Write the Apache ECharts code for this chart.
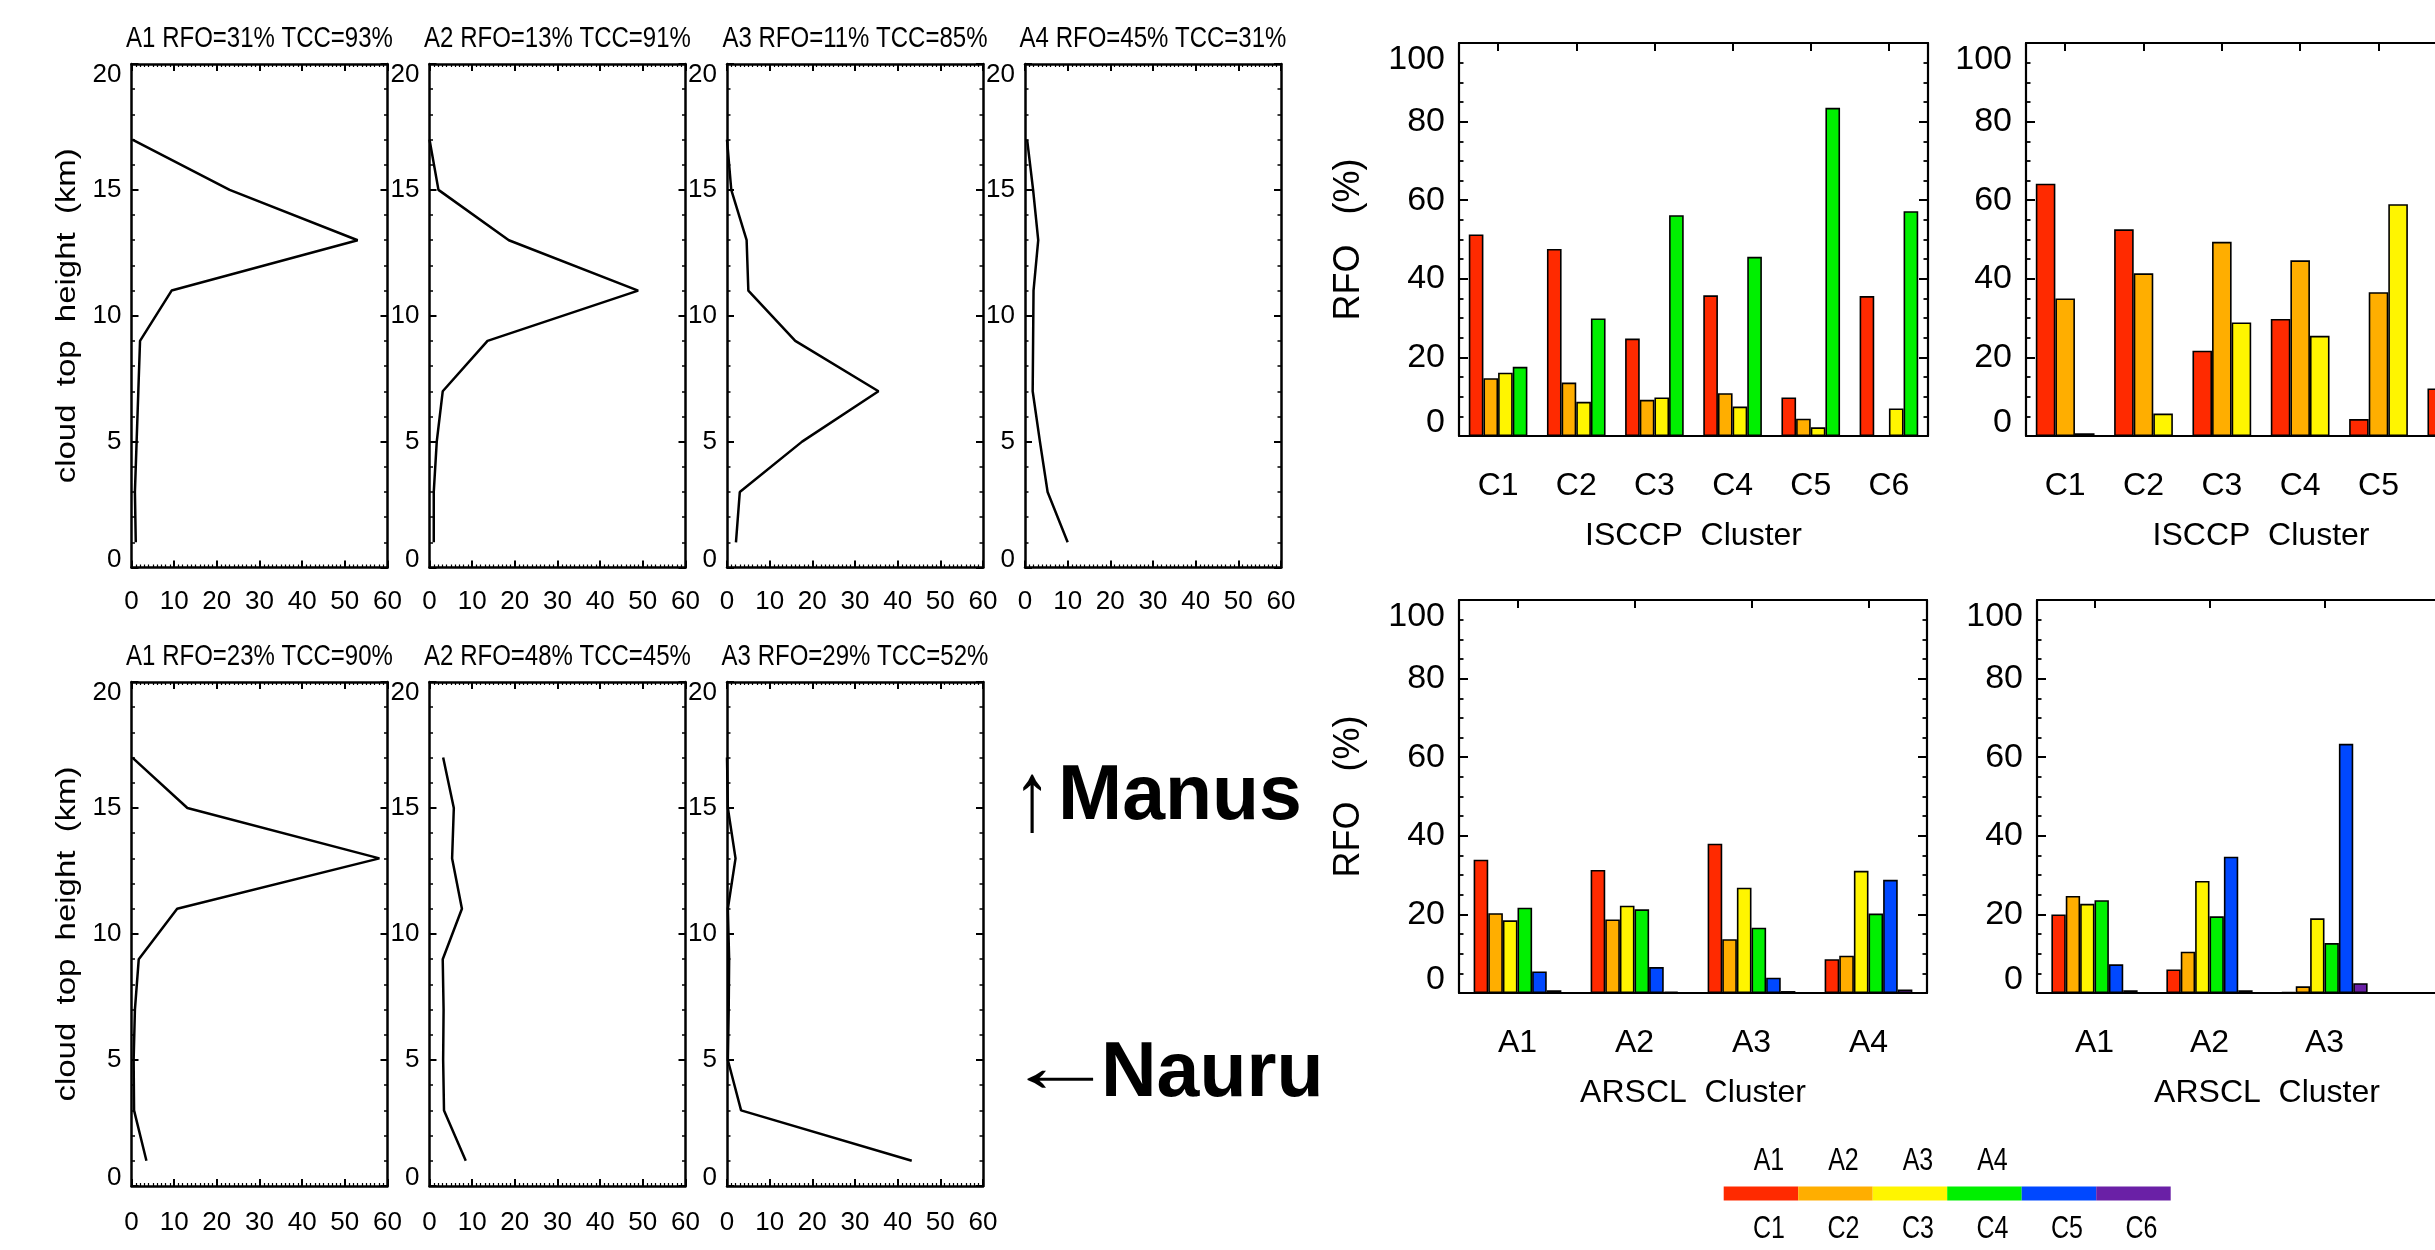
<!DOCTYPE html>
<html>
<head>
<meta charset="utf-8">
<script src="https://cdn.jsdelivr.net/npm/echarts@6/dist/echarts.min.js"></script>
<style>html,body{margin:0;padding:0;background:#fff}#c{width:2435px;height:1250px}</style>
</head>
<body>
<div id="c"></div>
<script>
// ================= DATA =================
// Cloud-top-height profiles (x = frequency %, y = height km)
const heightsKm = [17, 15, 13, 11, 9, 7, 5, 3, 1];
const manusProfA1 = [0.2, 23.0, 53.0, 9.4, 2.0, 1.6, 1.2, 0.8, 1.0];
const manusProfA2 = [0.0, 2.1, 18.6, 48.9, 13.6, 3.1, 1.7, 1.0, 1.0];
const manusProfA3 = [0.0, 1.0, 4.6, 5.0, 16.0, 35.5, 17.6, 3.0, 2.1];
const manusProfA4 = [0.5, 1.9, 3.1, 2.0, 1.9, 1.8, 3.5, 5.3, 10.0];
const nauruProfA1 = [0.2, 13.1, 58.1, 10.7, 1.7, 0.8, 0.5, 0.6, 3.5];
const nauruProfA2 = [3.2, 5.7, 5.3, 7.6, 3.1, 3.3, 3.2, 3.4, 8.5];
const nauruProfA3 = [0.0, 0.2, 2.0, 0.2, 0.5, 0.4, 0.2, 3.3, 43.3];
const manusTitles = ['A1 RFO=31% TCC=93%', 'A2 RFO=13% TCC=91%', 'A3 RFO=11% TCC=85%', 'A4 RFO=45% TCC=31%'];
const nauruTitles = ['A1 RFO=23% TCC=90%', 'A2 RFO=48% TCC=45%', 'A3 RFO=29% TCC=52%'];
const profileYTitle = 'cloud  top  height  (km)';

// RFO of ARSCL clusters within ISCCP clusters
const isccpClusters = ['C1', 'C2', 'C3', 'C4', 'C5', 'C6'];
const manusIsccpA1 = [51.3, 47.6, 24.8, 35.8, 9.8, 35.6];
const manusIsccpA2 = [14.7, 13.6, 9.2, 10.9, 4.4, 0];
const manusIsccpA3 = [16.1, 8.7, 9.8, 7.5, 2.2, 7.0];
const manusIsccpA4 = [17.6, 29.9, 56.2, 45.6, 83.5, 57.2];
const nauruIsccpA1 = [64.2, 52.6, 21.7, 29.8, 4.3, 12.1];
const nauruIsccpA2 = [35.0, 41.4, 49.4, 44.7, 36.6, null];
const nauruIsccpA3 = [0.7, 5.7, 28.9, 25.5, 59.0, null];

// RFO of ISCCP clusters within ARSCL clusters
const arsclClusters = ['A1', 'A2', 'A3', 'A4'];
const manusArsclC1 = [33.9, 31.3, 38.0, 8.6];
const manusArsclC2 = [20.3, 18.7, 13.7, 9.5];
const manusArsclC3 = [18.5, 22.2, 26.8, 31.1];
const manusArsclC4 = [21.7, 21.3, 16.6, 20.2];
const manusArsclC5 = [5.5, 6.6, 3.9, 28.8];
const manusArsclC6 = [0.7, 0.3, 0.5, 0.9];
const nauruArsclC1 = [20.0, 6.0, 0.2, null];
const nauruArsclC2 = [24.7, 10.5, 1.7, null];
const nauruArsclC3 = [22.7, 28.5, 19.0, null];
const nauruArsclC4 = [23.6, 19.5, 12.7, null];
const nauruArsclC5 = [7.3, 34.7, 63.4, null];
const nauruArsclC6 = [0.7, 0.7, 2.5, null];

const legendTopLabels = ['A1', 'A2', 'A3', 'A4'];
const legendBottomLabels = ['C1', 'C2', 'C3', 'C4', 'C5', 'C6'];
const clusterColors = ['#FF2A00', '#FFAE00', '#FFF500', '#00F000', '#0048FF', '#6A20A6'];

// ================= FONTS =================
function hasFont(name) {
  const ctx = document.createElement('canvas').getContext('2d');
  const s = 'abcdefghijklmnopqrstuvwxyzABCDEFGHIJ0123456789';
  ctx.font = '40px monospace';
  const a = ctx.measureText(s).width;
  ctx.font = '40px "' + name + '", monospace';
  const b = ctx.measureText(s).width;
  return Math.abs(a - b) > 1;
}
const NARROW = hasFont('Liberation Sans Narrow');
const FONT = NARROW ? '"Liberation Sans Narrow", "Liberation Sans", sans-serif' : '"Liberation Sans", Arial, sans-serif';
const K = NARROW ? 1 : 0.9;
const fs = n => Math.round(n * K);
const WIDE = '"Liberation Sans", Arial, sans-serif';
const TALL = NARROW ? 1.0 : 1.22;   // vertical stretch for free-standing text to mimic the tall plot font

// ================= BUILD =================
const grids = [], xAxes = [], yAxes = [], series = [], graphics = [];
const BLACK = '#000';

function textEl(x, y, text, size, opts) {
  opts = opts || {};
  const align = opts.align || 'center';
  const el = {
    type: 'text', x: x, y: y, silent: true,
    style: {
      text: text, fontSize: size, fontFamily: opts.family || FONT, fontWeight: opts.weight || 'normal',
      fill: BLACK, align: align, verticalAlign: 'middle', textAlign: align, textVerticalAlign: 'middle'
    }
  };
  if (opts.rotation) el.rotation = opts.rotation;
  if (opts.scaleX) el.scaleX = opts.scaleX;
  if (opts.scaleY) el.scaleY = opts.scaleY;
  return el;
}

function yLab(maxV, size, margin, downTop, upBottom) {
  const base = { fontSize: size, fontFamily: FONT, color: BLACK };
  return {
    show: true, margin: margin, fontSize: size, fontFamily: FONT, color: BLACK,
    showMinLabel: true, showMaxLabel: true,
    formatter: v => (v === maxV ? '{t|' : (v === 0 ? '{b|' : '{n|')) + v + '}',
    rich: {
      t: Object.assign({ padding: [2 * downTop, 0, 0, 0] }, base),
      b: Object.assign({ padding: [0, 0, 2 * upBottom, 0] }, base),
      n: Object.assign({}, base)
    }
  };
}

const PW = 256;
function addProfile(left, top, height, xvals, title, titleY, labelMargin, yTitle) {
  const g = grids.length;
  grids.push({ left: left, top: top, width: PW, height: height, outerBoundsMode: 'none', containLabel: false });
  const line = { show: true, onZero: false, lineStyle: { color: BLACK, width: 2.5 } };
  const tick = { show: true, inside: true, length: 7, lineStyle: { color: BLACK, width: 2 } };
  const xi = xAxes.length;
  const xBase = {
    gridIndex: g, type: 'value', min: 0, max: 60, interval: 10,
    axisLine: line, axisTick: tick,
    minorTick: { show: true, splitNumber: 10, length: 3, lineStyle: { color: BLACK, width: 1.2 } },
    splitLine: { show: false }, minorSplitLine: { show: false }
  };
  xAxes.push(Object.assign({}, xBase, {
    position: 'bottom',
    axisLabel: { show: true, margin: labelMargin, fontSize: fs(29), fontFamily: FONT, color: BLACK, showMinLabel: true, showMaxLabel: true }
  }));
  xAxes.push(Object.assign({}, xBase, { position: 'top', axisLabel: { show: false } }));
  const yi = yAxes.length;
  const yBase = {
    gridIndex: g, type: 'value', min: 0, max: 20, interval: 5,
    axisLine: line, axisTick: tick,
    minorTick: { show: true, splitNumber: 5, length: 3.5, lineStyle: { color: BLACK, width: 1.5 } },
    splitLine: { show: false }, minorSplitLine: { show: false }
  };
  yAxes.push(Object.assign({}, yBase, { position: 'left', axisLabel: yLab(20, fs(29), 10, 11, 8) }));
  yAxes.push(Object.assign({}, yBase, { position: 'right', axisLabel: { show: false } }));
  series.push({
    type: 'line', xAxisIndex: xi, yAxisIndex: yi, silent: true,
    data: xvals.map((v, i) => [v, heightsKm[i]]),
    showSymbol: false, symbol: 'none', smooth: false,
    lineStyle: { color: BLACK, width: 2.5 }
  });
  graphics.push(textEl(left + PW / 2, titleY, title, fs(27), { scaleY: TALL }));
  if (yTitle) {
    graphics.push(textEl(68, top + height / 2, yTitle, 27, { family: WIDE, rotation: Math.PI / 2, scaleX: 1.22 }));
  }
}

const BH = 393;
function addBars(left, top, width, cats, valsList, xName, labelInterval, showYName) {
  const g = grids.length;
  grids.push({ left: left, top: top, width: width, height: BH, outerBoundsMode: 'none', containLabel: false });
  const line = { show: true, onZero: false, lineStyle: { color: BLACK, width: 2.2 } };
  const xi = xAxes.length;
  xAxes.push({
    gridIndex: g, type: 'category', data: cats, position: 'bottom', boundaryGap: true,
    axisLine: line, axisTick: { show: false }, splitLine: { show: false },
    axisLabel: { show: true, margin: 34, fontSize: fs(36), fontFamily: FONT, color: BLACK, interval: labelInterval },
    name: xName, nameLocation: 'middle', nameGap: 84, nameMoveOverlap: false,
    nameTextStyle: { fontSize: 32, fontFamily: WIDE, color: BLACK }
  });
  xAxes.push({
    gridIndex: g, type: 'category', data: cats, position: 'top', boundaryGap: true,
    axisLine: line, splitLine: { show: false },
    axisTick: { show: true, inside: true, alignWithLabel: true, length: 8, lineStyle: { color: BLACK, width: 2 } },
    axisLabel: { show: false }
  });
  const yi = yAxes.length;
  const yBase = {
    gridIndex: g, type: 'value', min: 0, max: 100, interval: 20,
    axisLine: line,
    axisTick: { show: true, inside: true, length: 9, lineStyle: { color: BLACK, width: 2 } },
    minorTick: { show: true, splitNumber: 4, length: 4.5, lineStyle: { color: BLACK, width: 1.8 } },
    splitLine: { show: false }, minorSplitLine: { show: false }
  };
  const yLeft = Object.assign({}, yBase, { position: 'left', axisLabel: yLab(100, fs(38), 14, 17, 13) });
  if (showYName) {
    Object.assign(yLeft, {
      name: 'RFO   (%)', nameLocation: 'middle', nameGap: 92, nameMoveOverlap: false,
      nameTextStyle: { fontSize: 36, fontFamily: WIDE, color: BLACK }
    });
  }
  yAxes.push(yLeft);
  yAxes.push(Object.assign({}, yBase, { position: 'right', axisLabel: { show: false } }));
  valsList.forEach((vals, k) => {
    series.push({
      type: 'bar', xAxisIndex: xi, yAxisIndex: yi, data: vals, silent: true,
      barGap: '0%', barCategoryGap: '25%',
      itemStyle: { color: clusterColors[k], borderColor: BLACK, borderWidth: 1.6 }
    });
  });
}

// Profiles: Manus (top row), Nauru (bottom row)
const topLefts = [131.5, 429.5, 727, 1025];
[manusProfA1, manusProfA2, manusProfA3, manusProfA4].forEach((d, i) =>
  addProfile(topLefts[i], 64, 503.5, d, manusTitles[i], 39, 21, i === 0 ? profileYTitle : null));
[nauruProfA1, nauruProfA2, nauruProfA3].forEach((d, i) =>
  addProfile(topLefts[i], 682, 504, d, nauruTitles[i], 657, 24, i === 0 ? profileYTitle : null));

// Bar charts
addBars(1459, 43, 469, isccpClusters, [manusIsccpA1, manusIsccpA2, manusIsccpA3, manusIsccpA4], 'ISCCP  Cluster', 0, true);
addBars(2026, 43, 470, isccpClusters, [nauruIsccpA1, nauruIsccpA2, nauruIsccpA3], 'ISCCP  Cluster', 0, false);
addBars(1459, 600, 468, arsclClusters, [manusArsclC1, manusArsclC2, manusArsclC3, manusArsclC4, manusArsclC5, manusArsclC6], 'ARSCL  Cluster', 0, true);
addBars(2037, 600, 460, arsclClusters, [nauruArsclC1, nauruArsclC2, nauruArsclC3, nauruArsclC4, nauruArsclC5, nauruArsclC6], 'ARSCL  Cluster', (i) => i < 3, false);

// Site annotations
graphics.push(textEl(1032, 803, '↑', 76, { family: WIDE, scaleY: 1.3 }));
graphics.push(textEl(1058, 798, 'Manus', 77, { family: WIDE, weight: 'bold', align: 'left' }));
graphics.push(textEl(1060, 1071, '←', 72, { family: WIDE, scaleX: 1.54 }));
graphics.push(textEl(1101, 1075, 'Nauru', 77, { family: WIDE, weight: 'bold', align: 'left' }));

// Colour key
const LX = 1723.7, LW = 74.5, LY = 1186.4, LH = 14;
clusterColors.forEach((c, i) => {
  graphics.push({ type: 'rect', silent: true, shape: { x: LX + i * LW, y: LY, width: LW, height: LH }, style: { fill: c } });
});
legendTopLabels.forEach((t, i) => {
  graphics.push(textEl(LX + i * LW + LW / 2 + 8, 1161.5, t, fs(28), { scaleY: TALL }));
});
legendBottomLabels.forEach((t, i) => {
  graphics.push(textEl(LX + i * LW + LW / 2 + 8, 1230, t, fs(28), { scaleY: TALL }));
});

const chart = echarts.init(document.getElementById('c'), null, { renderer: 'canvas' });
chart.setOption({
  backgroundColor: '#fff',
  animation: false,
  grid: grids,
  xAxis: xAxes,
  yAxis: yAxes,
  series: series,
  graphic: { elements: graphics }
});
</script>
</body>
</html>
